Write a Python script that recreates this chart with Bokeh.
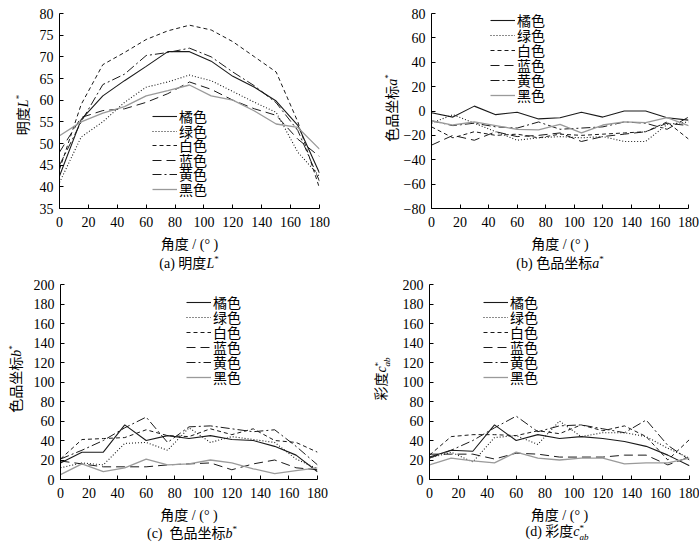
from bokeh.plotting import figure
from bokeh.models import Range1d, Legend, LegendItem, FixedTicker, Div
from bokeh.layouts import column, row
from bokeh.embed import file_html
from bokeh.resources import INLINE

# ---------------- data ----------------
angles = [0, 15, 30, 45, 60, 75, 90, 105, 120, 135, 150, 165, 180]
series_names = ["橘色", "绿色", "白色", "蓝色", "黄色", "黑色"]
x_ticks = [0, 20, 40, 60, 80, 100, 120, 140, 160, 180]

# (a) lightness L*
L_orange = [42.5, 55.5, 61.0, 64.5, 67.8, 71.2, 71.2, 69.0, 65.5, 63.0, 59.8, 54.2, 43.2]
L_green = [41.0, 51.5, 55.0, 59.5, 63.0, 64.2, 65.8, 64.5, 62.0, 59.5, 57.2, 48.0, 42.4]
L_white = [44.0, 59.0, 68.2, 71.0, 74.0, 76.0, 77.3, 76.2, 73.5, 70.0, 66.5, 55.0, 39.7]
L_blue = [48.0, 56.0, 57.6, 58.0, 59.5, 61.5, 64.2, 62.5, 60.0, 58.0, 56.5, 51.0, 47.0]
L_yellow = [45.0, 55.0, 63.6, 66.0, 70.3, 71.0, 72.0, 70.0, 66.5, 63.3, 59.4, 53.0, 41.3]
L_black = [51.8, 55.0, 57.0, 58.5, 61.0, 62.2, 63.5, 61.0, 60.0, 57.5, 54.5, 53.7, 48.7]

# (b) chromaticity a*
a_orange = [-1.5, -5.0, 4.0, -3.0, -1.0, -6.5, -5.5, -1.0, -5.0, 0.0, 0.0, -5.5, -7.5]
a_green = [-10.0, -3.0, -10.0, -17.0, -24.0, -22.0, -21.0, -22.0, -21.0, -25.0, -25.0, -11.0, -9.0]
a_white = [-13.0, -22.0, -17.0, -20.0, -19.0, -22.0, -19.0, -20.0, -19.0, -18.0, -17.0, -9.0, -23.0]
a_blue = [-28.0, -20.0, -24.0, -17.0, -21.0, -20.0, -18.0, -25.0, -21.0, -19.0, -17.0, -10.0, -12.0]
a_yellow = [-8.0, -12.0, -10.0, -13.0, -14.0, -9.0, -15.0, -14.0, -13.0, -9.0, -10.0, -15.0, -5.0]
a_black = [-8.0, -11.5, -9.0, -12.0, -15.0, -15.5, -11.0, -18.0, -11.5, -9.0, -9.5, -5.5, -12.0]

# (c) chromaticity b*
b_orange = [17, 28, 28, 56, 40, 45, 42, 45, 41, 40, 34, 25, 8]
b_green = [12, 17, 15, 37, 38, 30, 53, 38, 44, 41, 38, 21, 11]
b_white = [21, 41, 42, 43, 51, 45, 44, 52, 46, 52, 40, 38, 28]
b_blue = [19, 16, 13, 13, 13, 15, 16, 17, 10, 16, 20, 12, 10]
b_yellow = [21, 30, 40, 53, 64, 38, 54, 55, 52, 49, 51, 34, 15]
b_black = [5, 16, 8, 12, 21, 15, 16, 20, 17, 11, 6, 9, 12]

# (d) chroma C*ab
c_orange = [23, 30, 29, 56, 40, 46, 42, 44, 42, 39, 34, 25, 14]
c_green = [22, 28, 18, 43, 45, 36, 60, 44, 48, 48, 44, 32, 22]
c_white = [25, 44, 46, 46, 45, 50, 47, 56, 50, 55, 44, 20, 41]
c_blue = [26, 26, 26, 21, 27, 26, 23, 23, 23, 25, 25, 15, 23]
c_yellow = [22, 30, 40, 53, 65, 49, 55, 56, 52, 48, 61, 35, 20]
c_black = [15, 22, 19, 17, 28, 22, 20, 22, 22, 16, 17, 17, 22]

# ---------------- styles ----------------
SERIF = "Liberation Serif"
MIX = "'Liberation Serif', 'Noto Sans CJK SC'"
DARK = "#1a1a1a"
styles = [
    (DARK, "solid", 1.1),
    (DARK, "1 2", 1.1),
    (DARK, "4 3", 1.0),
    (DARK, "9 5", 1.0),
    (DARK, "9 3 2 3", 1.0),
    ("#9a9a9a", "solid", 1.3),
]

FONT_CSS = ("font-family:'Liberation Serif','Noto Sans CJK SC';font-size:14px;"
            "color:#000;white-space:nowrap;line-height:1;")
SUP = '<sup style="font-size:9px;">*</sup>'


def text_div(html, w, h, cx, cy, rotate=False):
    rot = " rotate(-90deg)" if rotate else ""
    inner = (f'<div style="position:relative;width:{w}px;height:{h}px;overflow:visible;">'
             f'<div style="position:absolute;left:{cx}px;top:{cy}px;'
             f'transform:translate(-50%,-50%){rot};{FONT_CSS}">{html}</div></div>')
    return Div(text=inner, width=w, height=h, margin=0)


def make_panel(w, h, bl, br, bt, bb, yr, yticks, data, leg_x, leg_y0, pitch):
    p = figure(width=w, height=h, x_range=Range1d(0, 180), y_range=Range1d(*yr),
               output_backend="svg", toolbar_location=None,
               min_border_left=bl, min_border_right=br,
               min_border_top=bt, min_border_bottom=bb)
    p.xgrid.visible = False
    p.ygrid.visible = False
    p.outline_line_color = None
    p.background_fill_color = "white"
    p.border_fill_color = "white"
    p.xaxis.ticker = FixedTicker(ticks=x_ticks)
    p.yaxis.ticker = FixedTicker(ticks=yticks)
    for ax in (p.xaxis, p.yaxis):
        ax.major_tick_in = 4
        ax.major_tick_out = 0
        ax.minor_tick_in = 0
        ax.minor_tick_out = 0
        ax.axis_line_color = "black"
        ax.major_tick_line_color = "black"
        ax.major_label_text_font = SERIF
        ax.major_label_text_font_size = "14px"
        ax.major_label_text_color = "black"
    p.xaxis.major_label_standoff = 8
    p.yaxis.major_label_standoff = 6
    p.xaxis.axis_label = "角度 / (° )"
    p.xaxis.axis_label_text_font = MIX
    p.xaxis.axis_label_text_font_size = "14px"
    p.xaxis.axis_label_text_font_style = "normal"
    p.xaxis.axis_label_text_color = "black"
    p.xaxis.axis_label_standoff = 7

    for i, (name, ys, (col, dash, lw)) in enumerate(zip(series_names, data, styles)):
        r = p.line(angles, ys, line_color=col, line_dash=dash, line_width=lw)
        # one legend per entry so that the row pitch can match the original
        leg = Legend(items=[LegendItem(label=name, renderers=[r])],
                     location=(leg_x, leg_y0 - i * pitch), padding=0, margin=0,
                     spacing=0, glyph_width=25, glyph_height=14, label_height=14,
                     label_standoff=2, border_line_alpha=0, background_fill_alpha=0,
                     label_text_font=MIX, label_text_font_size="14px",
                     label_text_color="black")
        p.add_layout(leg)
    return p


pa = make_panel(344, 254, 23, 61, 13, 45, (35, 80), list(range(35, 81, 5)),
                [L_orange, L_green, L_white, L_blue, L_yellow, L_black], 93, 82, 14.6)
pb = make_panel(299, 254, 28, 11, 13, 45, (-80, 80), list(range(-80, 81, 20)),
                [a_orange, a_green, a_white, a_blue, a_yellow, a_black], 59, 178, 15.0)
pc = make_panel(342, 253, 28, 55, 12, 45, (0, 200), list(range(0, 201, 20)),
                [b_orange, b_green, b_white, b_blue, b_yellow, b_black], 126, 167, 15.0)
pd = make_panel(301, 253, 31, 10, 12, 45, (0, 200), list(range(0, 201, 20)),
                [c_orange, c_green, c_white, c_blue, c_yellow, c_black], 54, 167, 15.0)

ya = text_div("明度<i>L</i>" + SUP, 36, 254, 23, 115, rotate=True)
yb = text_div("色品坐标<i>a</i>" + SUP, 20, 254, 12, 108, rotate=True)
yc = text_div("色品坐标<i>b</i>" + SUP, 30, 253, 16, 107, rotate=True)
cab = ('<i>c</i><sup style="font-size:9px;">*</sup>'
       '<sub style="font-size:9px;margin-left:-4.5px;"><i>ab</i></sub>')
yd = text_div("彩度" + cab, 26, 253, 11, 107, rotate=True)

cap_a = text_div("(a) 明度<i>L</i>" + SUP, 380, 18, 189, 9)
cap_b = text_div("(b) 色品坐标<i>a</i>" + SUP, 319, 18, 180, 9)
cap_c = text_div("(c)&nbsp; 色品坐标<i>b</i>" + SUP, 372, 17, 192, 8)
cap_d = text_div("(d) 彩度" + cab, 327, 17, 185, 8)

layout = column(row(ya, pa, yb, pb), row(cap_a, cap_b),
                row(yc, pc, yd, pd), row(cap_c, cap_d))
open("out.html", "w").write(file_html(layout, INLINE))
